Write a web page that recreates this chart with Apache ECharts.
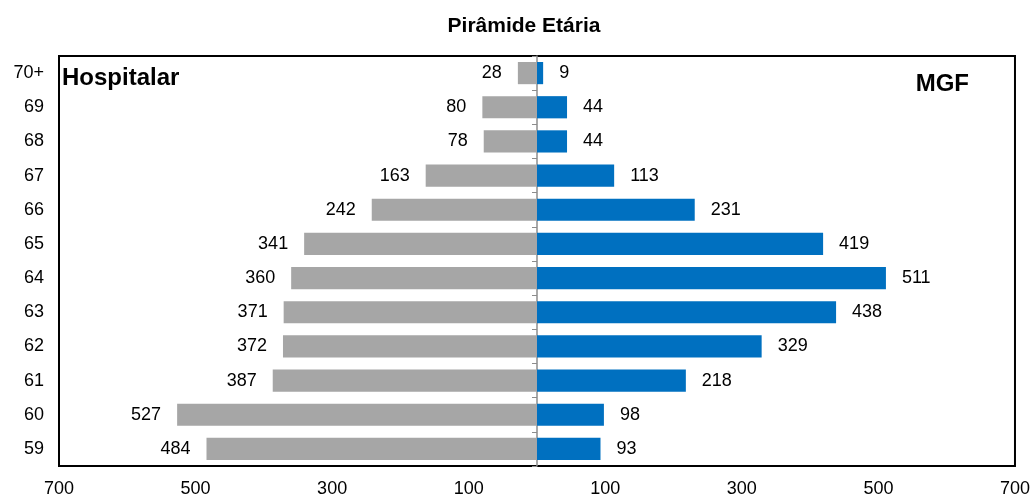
<!DOCTYPE html>
<html>
<head>
<meta charset="utf-8">
<script src="https://cdn.jsdelivr.net/npm/echarts@6/dist/echarts.min.js"></script>
<style>
html, body { margin: 0; padding: 0; background: #fff; }
#piramide { width: 1033px; height: 498px; }
</style>
</head>
<body>
<div id="piramide"></div>
<script>
var idades = ['59', '60', '61', '62', '63', '64', '65', '66', '67', '68', '69', '70+'];
var hospitalar = [484, 527, 387, 372, 371, 360, 341, 242, 163, 78, 80, 28];
var mgf = [93, 98, 218, 329, 438, 511, 419, 231, 113, 44, 44, 9];

var piramide = echarts.init(document.getElementById('piramide'));
var fonte = 'Liberation Sans, Arial, sans-serif';

var piramide_options = {
    animation: false,
    textStyle: { fontFamily: fonte },
    grid: {
        left: 59,
        right: 17,
        top: 56,
        bottom: 30,
        show: true,
        borderColor: '#000',
        borderWidth: 2
    },
    graphic: [
        {
            type: 'text', x: 524, y: 16,
            style: { text: 'Pirâmide Etária', font: 'bold 21px "Liberation Sans", Arial, sans-serif', fill: '#000', align: 'center' }
        },
        {
            type: 'text', left: 62, top: 66,
            style: { text: 'Hospitalar', font: 'bold 24px "Liberation Sans Narrow", "Arial Narrow", sans-serif', fill: '#000' }
        },
        {
            type: 'text', right: 64, top: 72,
            style: { text: 'MGF', font: 'bold 24px "Liberation Sans Narrow", "Arial Narrow", sans-serif', fill: '#000' }
        }
    ],
    xAxis: {
        type: 'value',
        min: -700,
        max: 700,
        interval: 200,
        splitLine: { show: false },
        axisLine: { show: false },
        axisTick: { show: false },
        axisLabel: {
            fontSize: 18,
            color: '#000',
            margin: 14,
            formatter: function (v) { return Math.abs(v); }
        }
    },
    yAxis: [
        {
            type: 'category',
            data: idades,
            position: 'left',
            axisLine: { show: false, onZero: false },
            axisTick: { show: false },
            axisLabel: { fontSize: 18, color: '#000', margin: 15 }
        },
        {
            type: 'category',
            data: idades,
            position: 'left',
            axisLine: { show: true, onZero: true, lineStyle: { color: '#8c8c8c', width: 1.5 } },
            axisTick: { show: true, inside: false, length: 5, lineStyle: { color: '#8c8c8c' } },
            axisLabel: { show: false }
        }
    ],
    series: [
        {
            name: 'Hospitalar',
            type: 'bar',
            stack: 'total',
            barWidth: '65%',
            itemStyle: { color: '#A6A6A6' },
            label: {
                show: true,
                position: 'left',
                distance: 16,
                fontSize: 18,
                color: '#000',
                formatter: function (p) { return Math.abs(p.value); }
            },
            data: hospitalar.map(function (v) { return -v; })
        },
        {
            name: 'MGF',
            type: 'bar',
            stack: 'total',
            barWidth: '65%',
            itemStyle: { color: '#0070C0' },
            label: {
                show: true,
                position: 'right',
                distance: 16,
                fontSize: 18,
                color: '#000'
            },
            data: mgf
        }
    ]
};
piramide.setOption(piramide_options);
</script>
</body>
</html>
